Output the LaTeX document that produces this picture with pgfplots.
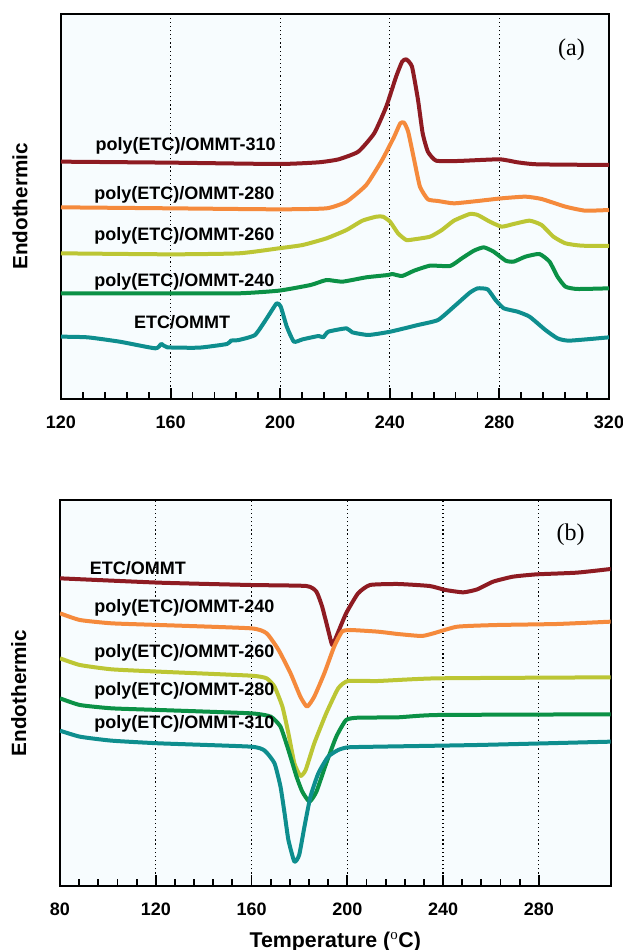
\documentclass[border=0pt]{standalone}
\usepackage{pgfplots}
\pgfplotsset{compat=1.18}
\usepackage{fontspec}
\setmainfont{Liberation Serif}
\setsansfont{Liberation Sans}
\definecolor{cRed}{HTML}{8E1B22}
\definecolor{cOra}{HTML}{F58A3C}
\definecolor{cYel}{HTML}{BCC634}
\definecolor{cGrn}{HTML}{0B9146}
\definecolor{cTea}{HTML}{0E8E8E}
\definecolor{bgc}{HTML}{F7FCFE}
\newcommand{\lbl}{\sffamily\bfseries\fontsize{13.5}{16}\selectfont}
\pgfplotsset{
  dsc/.style={
    scale only axis,
    axis background/.style={fill=bgc},
    axis line style={line width=1.6pt},
    ytick=\empty,
    xtick pos=lower,
    tick align=inside,
    major tick length=8pt,
    minor tick length=5pt,
    every tick/.style={black, line width=1.4pt},
    minor x tick num=4,
    xmajorgrids,
    major x grid style={black, line width=0.9pt, dash pattern=on 0.9pt off 2.2pt},
    /pgf/number format/assume math mode=true,
    xticklabel style={font=\lbl, yshift=-9pt},
    ylabel style={font=\sffamily\bfseries\fontsize{15.5}{18}\selectfont, at={(axis description cs:-0.075,0.5)}, anchor=center},
    xlabel style={font=\sffamily\bfseries\fontsize{16}{18}\selectfont, yshift=-5.5pt},
    every axis plot/.append style={line width=3pt, no markers, line join=round, smooth, tension=0.3},
    clip=true,
  }
}
\begin{document}
\begin{tikzpicture}
\path[use as bounding box] (0,0) rectangle (467.25pt,712.5pt);
% ---------------- (a) ----------------
\begin{axis}[dsc,
  at={(45.75pt,413.25pt)}, anchor=south west,
  width=411pt, height=288.75pt,
  xmin=120, xmax=320, ymin=0, ymax=1155,
  xtick={120,160,200,240,280,320},
  ylabel={Endothermic}]
\addplot[cRed] coordinates {(120,712)(160.2,709)(199.5,705)(214,710)(221.3,719)(228.5,742)(234.3,797)(238.7,877)(242.3,967)(244.5,1012)(246,1019)(248.1,997)(250.3,897)(252,797)(253.9,742)(256.9,715)(264.8,714)(280,719)(286.6,710)(293.9,704)(320,702)};
\addplot[cOra] coordinates {(120,575)(160,572)(199.5,569)(216.9,572)(224.2,592)(231.4,642)(237.2,717)(241.6,787)(243.8,827)(245.2,829)(246.7,802)(248.9,717)(251,637)(253.9,599)(257.6,594)(263.4,587)(272.1,594)(280.8,602)(289.5,607)(295.4,600)(304.1,577)(311.3,565)(320,567)};
\addplot[cYel] coordinates {(120,437)(160,434)(184.9,437)(199.5,452)(208.2,462)(216.9,482)(224.2,507)(230,535)(235.1,547)(237.5,547)(240.1,532)(243,497)(246,477)(248.9,479)(254.7,487)(259,507)(263.4,535)(269.2,555)(272.1,552)(276.5,532)(280.8,517)(285.2,525)(291,535)(295.4,522)(299.7,487)(304.1,467)(309.9,460)(320,459)};
\addplot[cGrn] coordinates {(120,317)(160,317)(184.9,317)(199.5,325)(211.1,342)(216.9,357)(222.7,352)(231.4,365)(239.4,372)(240.9,375)(244.5,369)(248.9,385)(254.7,400)(262,399)(266.3,422)(270.7,445)(274.3,455)(277.9,442)(282.3,415)(285.2,412)(289.5,427)(294.6,435)(298.3,412)(301.2,367)(304.1,337)(308.4,330)(320,332)};
\addplot[cTea] coordinates {(120,187)(129.7,185)(141.4,172)(154.4,152)(156.6,165)(158.8,155)(170.4,154)(180.6,165)(182,175)(184.9,177)(190.8,192)(195.1,242)(198.7,287)(200.2,277)(202.4,217)(205,172)(208.2,179)(214,189)(215.7,185)(217.6,202)(224.2,212)(226.3,200)(232.2,192)(240.2,202)(250.3,222)(257.6,237)(263.4,277)(269.2,319)(272.1,332)(275.7,329)(278.6,297)(281.6,272)(286.6,262)(291,247)(296.8,207)(301.2,182)(305.5,175)(320,185)};
\node[font=\lbl, anchor=west] at (axis cs:130.9,760) {poly(ETC)/OMMT-310};
\node[font=\lbl, anchor=west] at (axis cs:130.5,612) {poly(ETC)/OMMT-280};
\node[font=\lbl, anchor=west] at (axis cs:130.5,490) {poly(ETC)/OMMT-260};
\node[font=\lbl, anchor=west] at (axis cs:130.5,352) {poly(ETC)/OMMT-240};
\node[font=\lbl, anchor=west] at (axis cs:145,232) {ETC/OMMT};
\node[font=\rmfamily\fontsize{18}{20}\selectfont] at (axis cs:306.3,1047) {(a)};
\end{axis}
% ---------------- (b) ----------------
\begin{axis}[dsc,
  at={(45pt,48pt)}, anchor=south west,
  width=413pt, height=289.5pt,
  xmin=80, xmax=310, ymin=0, ymax=1158,
  xtick={80,120,160,200,240,280},
  ylabel={Endothermic},
  xlabel={Temperature ($^{\mathrm{o}}$C)}]
\addplot[cRed] coordinates {(80,923)(121.5,910)(159.7,903)(182.9,900)(187.1,883)(189.5,838)(192,768)(193.7,723)(195.4,748)(199.5,818)(204.5,878)(209.5,903)(221.1,906)(234.4,900)(241,888)(248.5,881)(254.3,890)(260.9,913)(269.2,928)(279.2,935)(295.8,940)(310,951)};
\addplot[cOra] coordinates {(80,818)(88.3,798)(101.6,788)(121.5,783)(159.7,773)(166.3,758)(171.3,708)(176.3,638)(180.4,568)(183.2,538)(186.2,568)(190.4,638)(194.5,718)(197.8,763)(201.2,768)(212.8,763)(221.1,756)(231,750)(236,758)(246,778)(262.6,783)(287.5,786)(310,793)};
\addplot[cYel] coordinates {(80,683)(88.3,663)(101.6,650)(121.5,643)(159.7,631)(166.3,623)(169.6,598)(172.9,538)(175.4,458)(177.9,368)(180.4,330)(182.6,348)(186.2,428)(191.2,518)(196.2,593)(200.3,615)(212.8,615)(237.7,623)(310,626)};
\addplot[cGrn] coordinates {(80,563)(88.3,543)(101.6,533)(121.5,528)(159.7,518)(168,508)(172.1,478)(175.4,408)(178.8,328)(181.2,283)(184.2,253)(187.1,283)(191.2,368)(195.4,448)(199.5,498)(204.5,505)(221.1,506)(237.7,513)(310,515)};
\addplot[cTea] coordinates {(80,466)(88.3,448)(101.6,436)(121.5,428)(159.7,418)(165.5,406)(169.6,368)(172.1,298)(173.8,218)(175.4,138)(177.9,73)(179.9,93)(182.1,178)(184.6,268)(187.9,338)(192,388)(196.2,408)(200.3,416)(212.8,418)(254.3,423)(310,433)};
\node[font=\lbl, anchor=west] at (axis cs:90.5,953) {ETC/OMMT};
\node[font=\lbl, anchor=west] at (axis cs:92.4,833) {poly(ETC)/OMMT-240};
\node[font=\lbl, anchor=west] at (axis cs:92.4,700) {poly(ETC)/OMMT-260};
\node[font=\lbl, anchor=west] at (axis cs:92.4,585) {poly(ETC)/OMMT-280};
\node[font=\lbl, anchor=west] at (axis cs:92.4,485) {poly(ETC)/OMMT-310};
\node[font=\rmfamily\fontsize{18}{20}\selectfont] at (axis cs:293.3,1053) {(b)};
\end{axis}
\end{tikzpicture}
\end{document}
